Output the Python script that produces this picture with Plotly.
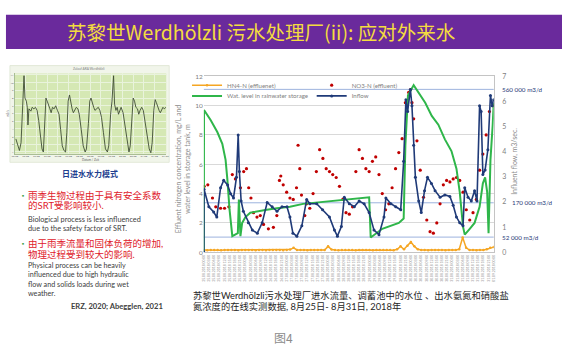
import pandas as pd
import plotly.graph_objects as go

# ---------------- data (hours since 2018-08-25 00:00) ----------------
inflow_h = [0, 0.1, 2.9, 5.7, 7.5, 9.7, 11.5, 13.8, 15.5, 17.2, 18.9, 19.9, 20.6, 21.6, 22.9, 25.8, 28.1, 31.0, 33.8, 36.7,
            39.6, 42.4, 45.3, 48.2, 49.9, 51.6, 53.9, 56.8, 59.6, 61.4, 65.4, 68.8, 72.8, 75.7, 77.4, 79.7, 81.4, 84.3, 87.2, 90.0,
            92.9, 95.8, 98.6, 101.5, 104.4, 105.5, 108.4, 111.2, 114.1, 115.8, 117.1, 118.1, 119.7, 120.6, 121.6, 122.6, 124.5, 126.0, 127.9, 129.6,
            131.9, 134.0, 136.9, 139.7, 142.6, 144.5, 146.4, 148.3, 150.2, 151.2, 153.1, 155.0, 156.9, 158.3, 159.8, 160.7, 161.7, 163.0, 164.6, 166.1,
            167.1, 168.0]
inflow_q = [0, 2.51, 1.81, 1.60, 1.40, 2.57, 2.86, 2.68, 2.33, 2.16, 2.98, 4.67, 3.21, 2.04, 1.63, 1.17, 0.88, 0.76, 1.17, 1.98,
            1.81, 1.63, 1.81, 1.81, 1.40, 0.76, 0.64, 1.05, 2.10, 1.93, 1.93, 1.69, 1.40, 0.88, 0.64, 1.02, 2.19, 1.93, 1.81, 2.04,
            1.93, 1.58, 0.88, 0.70, 1.40, 2.16, 1.93, 1.81, 1.69, 3.62, 6.07, 5.60, 6.48, 5.83, 4.26, 2.98, 2.04, 1.58, 2.45, 2.98,
            2.74, 2.45, 2.19, 2.28, 2.22, 1.87, 1.40, 1.17, 1.05, 2.57, 2.19, 2.04, 2.45, 2.04, 5.83, 5.60, 3.09, 3.27, 4.08, 6.24,
            5.83, 6.07]

no3_h = [0.2, 2.3, 5.0, 6.9, 9.7, 12.0, 14.5, 16.5, 18.3, 21.2, 23.1, 24.7, 26.0, 27.3, 28.8, 30.8, 32.7, 34.6, 37.4, 40.3,
         42.3, 43.8, 44.6, 46.0, 48.0, 49.9, 51.8, 53.7, 54.6, 55.6, 56.6, 58.5, 59.5, 61.4, 63.3, 65.2, 67.1, 69.0, 70.9, 72.8,
         74.7, 76.7, 78.6, 80.5, 82.4, 84.3, 86.2, 88.1, 90.0, 91.9, 93.9, 95.8, 97.7, 99.6, 101.5, 103.4, 105.3, 107.2, 109.1, 111.1,
         113.0, 114.9, 116.8, 118.7, 119.8, 120.6, 121.6, 123.5, 125.4, 127.3, 129.2, 131.1, 133.0, 135.0, 136.9, 138.8, 140.7, 142.6, 144.5, 146.4,
         148.3, 150.2, 152.1, 154.1, 156.0, 157.9, 159.8, 161.7, 163.6, 165.5, 167.4]
no3_v = [4.5, 4.6, 3.7, 3.1, 3.0, 3.0, 3.1, 5.3, 5.0, 4.4, 5.5, 5.7, 4.4, 3.7, 2.7, 2.4, 2.5, 1.9, 1.6, 1.7,
         2.5, 4.9, 5.2, 4.6, 4.1, 3.7, 3.6, 4.4, 7.3, 5.7, 3.9, 2.5, 3.3, 3.0, 4.0, 5.5, 7.0, 6.4, 5.7, 5.5,
         5.3, 5.1, 4.5, 3.6, 2.7, 2.6, 3.1, 5.5, 7.0, 6.4, 5.7, 5.5, 6.2, 6.5, 5.3, 4.0, 2.9, 3.3, 4.4, 5.7,
         6.8, 7.75, 10.2, 10.9, 11.1, 10.2, 9.1, 7.6, 5.6, 3.75, 2.2, 1.4, 1.3, 2.0, 3.3, 4.6, 4.9, 4.8, 5.0, 5.1,
         4.9, 4.1, 2.9, 2.2, 2.7, 3.6, 5.6, 6.7, 8.0, 9.6, 10.0]

lvl_h = [0, 0.1, 4.0, 7.8, 10.7, 12.6, 13.6, 14.9, 16.5, 18.3, 19.7, 20.3, 21.2, 22.2, 24.1, 26.9, 30.8, 36.5, 42.3, 49.9,
         57.5, 74.7, 95.8, 96.7, 103.4, 113.0, 115.8, 116.8, 118.3, 121.6, 124.5, 128.3, 132.1, 135.9, 139.7, 143.5, 146.4, 148.3, 150.2, 151.2,
         154.1, 156.9, 159.8, 161.7, 163.0, 164.2, 165.0, 166.1, 167.4, 168.0]
lvl_v = [0, 9.7, 9.0, 8.2, 7.4, 6.3, 5.0, 2.9, 1.1, 1.2, 1.3, 3.6, 1.1, 2.0, 2.4, 2.7, 2.8, 2.9, 3.0, 3.1,
         3.3, 3.5, 3.75, 1.0, 1.6, 2.0, 2.3, 7.3, 10.7, 11.4, 10.9, 10.2, 9.3, 8.7, 7.7, 6.9, 5.7, 4.1, 1.75, 1.2,
         1.6, 2.0, 3.1, 4.7, 5.1, 4.1, 1.3, 6.3, 8.7, 10.2]

nh4_h = [2 * i for i in range(85)]
nh4_v = [0.15, 0.14, 0.15, 0.16, 0.15, 0.14, 0.15, 0.15, 0.16, 0.15, 0.14, 0.15, 0.15, 0.16, 0.15, 0.14, 0.15, 0.15, 0.14, 0.15,
         0.16, 0.15, 0.15, 0.14, 0.15, 0.18, 0.30, 0.16, 0.15, 0.15, 0.14, 0.15, 0.16, 0.15, 0.15, 0.15, 0.40, 0.18, 0.15, 0.14,
         0.15, 0.16, 0.15, 0.15, 0.14, 0.15, 0.15, 0.16, 0.15, 0.14, 0.15, 0.15, 0.16, 0.15, 0.15, 0.14, 0.20, 0.40, 0.20, 0.45,
         0.70, 0.40, 0.20, 0.15, 0.15, 0.14, 0.15, 0.16, 0.15, 0.15, 0.14, 0.15, 0.15, 0.16, 0.20, 1.00, 0.30, 0.15, 0.15, 0.14,
         0.15, 0.15, 0.20, 0.30, 0.35]

ref_flows_m3d = [560000, 170000, 52000]
ref_labels = ["560 000 m3/d", "170 000 m3/d", "52 000 m3/d"]

# inset: typical daily inflow pattern (one week)
inset_h = [1.1, 3.3, 5.1, 6.9, 8.4, 9.5, 10.2, 11.3, 12.8, 13.9, 14.6, 15.7, 17.9, 19.3, 21.2, 23.0, 24.8, 26.6, 28.5, 30.3,
           31.8, 33.2, 34.7, 36.1, 37.6, 39.1, 40.5, 42.0, 43.8, 45.6, 47.5, 49.3, 51.1, 52.9, 54.8,
           56.6, 58.0, 59.5, 61.0, 62.4, 63.9, 65.3, 66.8, 68.6, 70.4, 71.9, 74.1, 76.3, 78.5,
           79.9, 82.1, 83.6, 85.0, 86.5, 88.0, 89.4, 91.3, 93.1, 94.9, 96.7, 98.9, 101.1, 103.3,
           104.8, 106.9, 108.4, 110.2, 111.3, 112.8, 114.2, 115.7, 117.2, 118.6, 120.8, 123.0, 125.2, 127.4,
           128.8, 130.7, 132.1, 133.6, 135.1, 136.9, 138.3, 139.8, 141.6, 143.4, 145.6, 147.8, 150.0, 151.8,
           153.3, 155.1, 156.6, 158.0, 159.5, 161.0, 162.4, 163.9, 165.3, 166.8, 168.6]
inset_v = [2.7, 2.0, 1.2, 2.2, 5.9, 7.6, 10.9, 8.0, 7.6, 6.8, 4.5, 6.6, 6.3, 6.8, 6.6, 6.8, 6.4, 5.1, 3.1, 1.4,
           1.0, 3.9, 8.0, 7.6, 7.2, 6.6, 6.1, 6.8, 6.6, 7.0, 6.4, 5.9, 3.9, 1.8, 1.2,
           1.0, 3.5, 7.6, 8.4, 7.2, 6.6, 6.1, 6.4, 6.8, 6.6, 5.9, 3.9, 1.8, 1.0,
           1.4, 4.7, 7.6, 8.0, 7.2, 6.8, 6.4, 6.6, 6.8, 6.4, 5.5, 3.5, 1.4, 1.0,
           1.8, 5.9, 7.6, 10.9, 7.2, 6.4, 6.8, 5.9, 6.4, 6.8, 6.1, 4.3, 2.2, 1.0,
           1.8, 5.9, 8.0, 7.6, 6.8, 6.6, 5.9, 6.4, 6.8, 6.4, 4.7, 2.7, 1.4, 0.9,
           2.2, 6.4, 7.8, 7.4, 6.8, 6.4, 6.1, 6.4, 6.8, 6.6, 6.8]

# ---------------- helpers ----------------
W, H = 565, 351
BASE = pd.Timestamp("2018-08-25 00:00")


def px(x):
    return x / W


def py(y):
    return 1 - y / H


def t(hours):
    return BASE + pd.to_timedelta(hours, unit="h")


CJK = "Noto Sans CJK SC"
LAT = "Lato"
MIX = "Lato, Noto Sans CJK SC"

fig = go.Figure()

# inset chart
fig.add_trace(go.Scatter(x=t(inset_h), y=inset_v, xaxis="x2", yaxis="y2", mode="lines",
                         line=dict(color="#3f4d36", width=0.9), showlegend=False, hoverinfo="skip"))

# main chart
fig.add_trace(go.Scatter(x=t(nh4_h), y=nh4_v, mode="lines+markers", name="HN4-N (effluenet)",
                         line=dict(color="#f5a623", width=1.5),
                         marker=dict(color="#f5a623", size=2.5), legend="legend"))
fig.add_trace(go.Scatter(x=t(no3_h), y=no3_v, mode="markers", name="NO3-N (effluent)",
                         marker=dict(color="#c00000", size=3.2), legend="legend2"))
fig.add_trace(go.Scatter(x=t(lvl_h), y=lvl_v, mode="lines", name="Wat. level in rainwater storage",
                         line=dict(color="#2fb64a", width=2), legend="legend3"))
fig.add_trace(go.Scatter(x=t(inflow_h), y=inflow_q, yaxis="y3", mode="lines+markers", name="Inflow",
                         line=dict(color="#1f3a78", width=1.6), marker=dict(color="#1f3a78", size=3),
                         legend="legend4"))

leg_common = dict(xanchor="left", yanchor="middle", bgcolor="rgba(0,0,0,0)",
                  font=dict(size=6.1, color="#7f7f7f", family=LAT), itemwidth=30)

shapes = [
    dict(type="rect", xref="paper", yref="paper", x0=px(3), x1=1, y0=py(45), y1=py(10),
         fillcolor="#6a2a9c", line=dict(width=0), layer="below"),
    dict(type="rect", xref="paper", yref="paper", x0=px(7), x1=px(168), y0=py(161), y1=py(62),
         fillcolor="#f1f5ea", line=dict(color="#dde5d2", width=0.8), layer="below"),
    dict(type="rect", xref="paper", yref="paper", x0=px(12), x1=px(165), y0=py(152), y1=py(70),
         fillcolor="#d5e8b4", line=dict(width=0), layer="below"),
]
annotations = []
for q, lab in zip(ref_flows_m3d, ref_labels):
    qs = q / 86400.0
    shapes.append(dict(type="line", xref="x domain", yref="y3", x0=0, x1=1, y0=qs, y1=qs,
                       line=dict(color="#9db3de", width=1), layer="below"))
    xl = 512 if q == 170000 else 502
    annotations.append(dict(text=lab, xref="paper", yref="y3", x=px(xl), y=qs, xanchor="left",
                            yanchor="middle", showarrow=False,
                            font=dict(size=6.3, color="#1f3a78", family=LAT)))


def txt(s, x, y, size, color, family=CJK, xanchor="left", yanchor="middle", angle=0, align="left"):
    annotations.append(dict(text=s, xref="paper", yref="paper", x=px(x), y=py(y), xanchor=xanchor,
                            yanchor=yanchor, showarrow=False, textangle=angle, borderpad=0,
                            align=align, font=dict(size=size, color=color, family=family)))


# title
txt("苏黎世Werdhölzli 污水处理厂(ii): 应对外来水", 261, 27.5, 19.5, "#f4dc3f", xanchor="center")
# inset texts
txt("Zulauf ARA Werdhölzli", 87, 66, 3.2, "#7f7f7f", family=LAT, xanchor="center")
txt("<b>日进水水力模式</b>", 88, 172, 8, "#1f3f8f", xanchor="center")
# bullets
txt("▪", 20, 194.5, 6, "#3fa34d", xanchor="center")
txt("雨季生物过程由于具有安全系数", 24, 194.5, 9.5, "#e0202a", family=MIX)
txt("的SRT受影响较小.", 24, 205.5, 9.5, "#e0202a", family=MIX)
txt("Biological process is less influenced<br>due to the safety factor of SRT.", 24, 224.5, 7.3,
    "#404040", family=LAT)
txt("▪", 20, 244, 6, "#3fa34d", xanchor="center")
txt("由于雨季流量和固体负荷的增加,", 24, 244, 9.5, "#e0202a", family=MIX)
txt("物理过程受到较大的影响.", 24, 255, 9.5, "#e0202a", family=MIX)
txt("Physical process can be heavily<br>influenced due to high hydraulic<br>"
    "flow and solids loads during wet<br>weather.", 24, 281.3, 7.2, "#404040", family=LAT)
txt("<b>ERZ, 2020; Abegglen, 2021</b>", 163, 308.5, 7.6, "#404040", family=LAT, xanchor="right")
# axis titles of main chart
txt("Effluent nitrogen concentration, mg/L and<br>water level in storage tank, m", 182, 168, 7,
    "#8c8c8c", family=LAT, xanchor="center", angle=-90, align="center")
txt("Influent flow, m3/sec.", 517, 160, 7, "#8c8c8c", family=LAT, xanchor="center", angle=-90)
# caption
txt("苏黎世Werdhölzli污水处理厂进水流量、调蓄池中的水位 、出水氨氮和硝酸盐", 191, 297, 9.3, "#262626",
    family=MIX)
txt("氮浓度的在线实测数据, 8月25日- 8月31日, 2018年", 191, 309, 9.3, "#262626", family=MIX)
txt("图4", 284, 340, 12, "#8c8c8c", xanchor="center")

fig.update_layout(
    width=W, height=H, margin=dict(l=0, r=0, t=0, b=0),
    paper_bgcolor="white", plot_bgcolor="rgba(0,0,0,0)",
    font=dict(family=LAT, color="#595959"),
    showlegend=True,
    legend=dict(x=px(186), y=py(82), **leg_common),
    legend2=dict(x=px(312), y=py(82), **leg_common),
    legend3=dict(x=px(186), y=py(93), **leg_common),
    legend4=dict(x=px(312), y=py(93), **leg_common),
    xaxis=dict(domain=[px(203), px(496)], anchor="y", type="date",
               range=[t(0), t(168)], dtick=3 * 3600 * 1000, tick0=BASE,
               tickformat="%d.%m.%Y %H:%M", tickangle=-90,
               tickfont=dict(size=3.4, color="#8c8c8c"), showgrid=False,
               showline=True, linecolor="#c4c4c4", linewidth=1.3, mirror=True, ticks=""),
    yaxis=dict(domain=[py(253), py(73)], anchor="x", range=[0, 12], dtick=2,
               tickfont=dict(size=6.5, color="#7f7f7f"), gridcolor="#d9d9d9",
               zeroline=False, showline=False),
    yaxis3=dict(overlaying="y", side="right", anchor="x", range=[0, 7], dtick=1,
                showgrid=False, zeroline=False, showline=True, linecolor="#c4c4c4",
                ticks="outside", ticklen=6, tickcolor="rgba(0,0,0,0)",
                tickfont=dict(size=7, color="#7f7f7f")),
    xaxis2=dict(domain=[px(12), px(165)], anchor="y2", type="date",
                range=[t(0), t(169)], dtick=12 * 3600 * 1000, tick0=BASE,
                tickformat="%d.%m", tickfont=dict(size=2.6, color="#606060"),
                showgrid=True, gridcolor="#e9f3dc", gridwidth=0.6, ticks="",
                showline=True, linecolor="#a9bd94", linewidth=0.6,
                title=dict(text="Datum / Zeit", font=dict(size=3, color="#606060"), standoff=1)),
    yaxis2=dict(domain=[py(152), py(70)], anchor="x2", range=[0.8, 11.2], dtick=1,
                tickfont=dict(size=2.6, color="#606060"), gridcolor="#e9f3dc", gridwidth=0.6,
                zeroline=False, showline=True, linecolor="#a9bd94", linewidth=0.6,
                title=dict(text="m3/s", font=dict(size=3, color="#606060"), standoff=1)),
    shapes=shapes,
    annotations=annotations,
)

fig.write_html("out.html")
